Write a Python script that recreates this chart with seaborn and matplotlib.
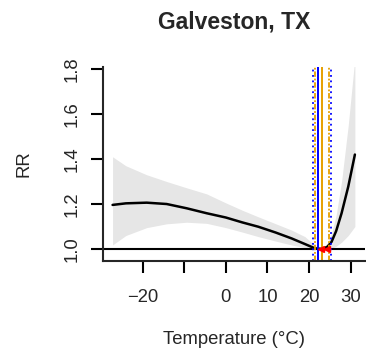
import numpy as np
import pandas as pd
import matplotlib
matplotlib.use("Agg")
import matplotlib.pyplot as plt
import seaborn as sns

sns.set_style("ticks")
plt.rcParams['font.family'] = ['Liberation Sans', 'DejaVu Sans']

# exposure-response curve
temp = [-27.2, -24, -19, -14.2, -9.4, -4.6, 0, 4, 7.8, 12, 15.8, 19, 21.4, 23.2, 24.4, 25.4, 26.5, 27.8, 29.4, 31.0]
rr = [1.196, 1.203, 1.206, 1.200, 1.181, 1.159, 1.140, 1.118, 1.099, 1.073, 1.047, 1.022, 1.003, 1.000, 1.010, 1.032, 1.080, 1.159, 1.277, 1.420]
ci_low = [1.018, 1.060, 1.095, 1.112, 1.119, 1.114, 1.095, 1.075, 1.055, 1.035, 1.018, 1.006, 1.000, 0.998, 1.000, 1.004, 1.012, 1.030, 1.060, 1.100]
ci_high = [1.410, 1.370, 1.330, 1.300, 1.272, 1.245, 1.205, 1.172, 1.143, 1.112, 1.084, 1.055, 1.015, 1.002, 1.025, 1.070, 1.150, 1.300, 1.550, 1.850]

# reference temperatures (vertical lines)
mmt_blue = 22.2
mmt_orange = 23.2
ci_blue = [20.9, 25.2]
ci_orange = [21.3, 24.9]
arrow_x = [22.9, 24.4]

df = pd.DataFrame({'Temperature': temp, 'RR': rr})

fig = plt.figure(figsize=(3.66, 3.54), dpi=100)
ax = fig.add_axes([0.2814, 0.2636, 0.7167, 0.5463])

ax.fill_between(temp, ci_low, ci_high, color='#e6e6e6', linewidth=0)
ax.axhline(1.0, color='black', linewidth=1.5)
sns.lineplot(data=df, x='Temperature', y='RR', ax=ax, color='black', linewidth=1.8)

orange = '#E69F00'
for v in ci_blue:
    ax.axvline(v, color='blue', linewidth=1.3, linestyle=(0, (1, 2)))
for v in ci_orange:
    ax.axvline(v, color=orange, linewidth=1.3, linestyle=(0, (3, 1, 1, 1)))
ax.axvline(mmt_blue, color='blue', linewidth=1.4)
ax.axvline(mmt_orange, color=orange, linewidth=1.4)
ax.plot(arrow_x, [1.0, 1.0], linestyle='none', marker='<', color='red', markersize=5)

ax.set_xlim(-29.5, 33.5)
ax.set_ylim(0.948, 1.808)
ax.set_xticks([-20, -10, 0, 10, 20, 30])
ax.set_xticklabels(['\u221220', '', '0', '10', '20', '30'])
ax.set_yticks([1.0, 1.2, 1.4, 1.6, 1.8])
ax.set_yticklabels(['1.0', '1.2', '1.4', '1.6', '1.8'], rotation=90, va='center')

sns.despine(ax=ax)
for s in ['left', 'bottom']:
    ax.spines[s].set_linewidth(1.5)
ax.tick_params(axis='both', length=8.4, width=1.5, labelsize=13.3, color='black')
ax.tick_params(axis='x', pad=12)
ax.tick_params(axis='y', pad=8)

ax.set_xlabel('Temperature (\u00b0C)', fontsize=13.3, labelpad=18)
ax.set_ylabel('RR', fontsize=13.3, labelpad=22)
ax.set_title('Galveston, TX', fontsize=16.5, fontweight='bold', pad=28)

fig.savefig('out.png', dpi=100)
